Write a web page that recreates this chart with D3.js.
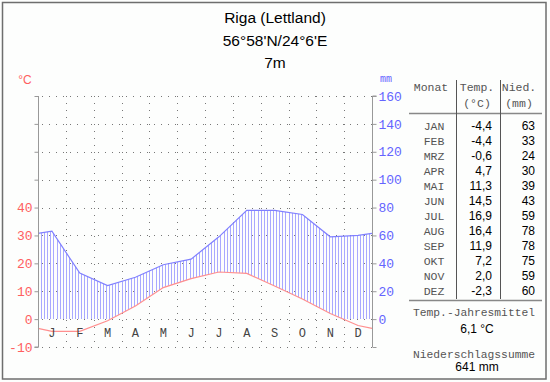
<!DOCTYPE html>
<html><head><meta charset="utf-8">
<script src="https://cdn.jsdelivr.net/npm/d3@7"></script>
<style>body{margin:0;background:#fff}svg{display:block}</style>
</head><body><svg id="c" width="550" height="382"></svg>
<script>
const months = ["JAN","FEB","MRZ","APR","MAI","JUN","JUL","AUG","SEP","OKT","NOV","DEZ"];
const monthInitials = ["J","F","M","A","M","J","J","A","S","O","N","D"];
const temperature = [-4.4,-4.4,-0.6,4.7,11.3,14.5,16.9,16.4,11.9,7.2,2.0,-2.3];
const precipitation = [63,33,24,30,39,43,59,78,78,75,59,60];
const tempTicks = [-10,0,10,20,30,40];
const precTicks = [0,20,40,60,80,100,120,140,160];
const titleLines = ["Riga (Lettland)","56°58'N/24°6'E","7m"];
const annualMean = "6,1 °C";
const annualSum = "641 mm";

const svg = d3.select("#c");
const fmt = v => d3.format(".1f")(v).replace(".", ",").replace("−","-");

svg.append("rect").attr("x",0).attr("y",0).attr("width",550).attr("height",382).attr("fill","#fdfefd");
svg.append("rect").attr("x",2.5).attr("y",2.5).attr("width",543.5).attr("height",376.5)
  .attr("fill","none").attr("stroke","#6e6e6e").attr("stroke-width",1.5);

// title
svg.selectAll("text.title").data(titleLines).join("text")
  .attr("x",275).attr("y",(d,i)=>23+i*22.7).attr("text-anchor","middle")
  .attr("font-family","Liberation Sans, Arial, sans-serif").attr("font-size",15.5).attr("fill","#000")
  .text(d=>d);

const L=38, R=372, T=96, B=347;
const x = d3.scaleLinear().domain([0,12]).range([L,R]);
const yT = d3.scaleLinear().domain([-10,80]).range([B,T]);
const yP = d3.scaleLinear().domain([-20,160]).range([B,T]);

const g = svg.append("g");
const gridVals = d3.range(-10,81,10);
gridVals.forEach(v=>{
  g.append("line").attr("x1",L+4).attr("x2",R).attr("y1",Math.round(yT(v))+0.5).attr("y2",Math.round(yT(v))+0.5)
   .attr("stroke","#777").attr("stroke-width",1).attr("stroke-dasharray","1,6");
});
d3.range(1,12).forEach(m=>{
  g.append("line").attr("x1",Math.round(x(m))+0.5).attr("x2",Math.round(x(m))+0.5).attr("y1",T).attr("y2",B)
   .attr("stroke","#777").attr("stroke-width",1).attr("stroke-dasharray","1,6");
});

const tEdge = (temperature[0]+temperature[11])/2;
const pEdge = (precipitation[0]+precipitation[11])/2;
const tPts = [[0,tEdge]].concat(temperature.map((v,i)=>[i+0.5,v])).concat([[12,tEdge]]);
const pPts = [[0,pEdge]].concat(precipitation.map((v,i)=>[i+0.5,v])).concat([[12,pEdge]]);

const defs = svg.append("defs");
const areaGen = d3.area().x(d=>x(d[0])).y0((d,i)=>yT(tPts[i][1])).y1(d=>yP(d[1]));
defs.append("clipPath").attr("id","humid").append("path").attr("d",areaGen(pPts));
defs.append("clipPath").attr("id","above0").append("rect").attr("x",L).attr("y",T).attr("width",R-L).attr("height",yT(0)-T);

const hatch = svg.append("g").attr("clip-path","url(#above0)").append("g").attr("clip-path","url(#humid)");
const nH = 108;
d3.range(0,nH+1).forEach(k=>{
  const xx = Math.round(x(k*12/nH))+0.5;
  hatch.append("line").attr("x1",xx).attr("x2",xx).attr("y1",T).attr("y2",B)
    .attr("stroke","#a9a9ff").attr("stroke-width",1);
});

const lineGen = d3.line().x(d=>x(d[0]));
svg.append("path").attr("d",lineGen.y(d=>yP(d[1]))(pPts)).attr("fill","none").attr("stroke","#8080ff").attr("stroke-width",1.2);
svg.append("path").attr("d",d3.line().x(d=>x(d[0])).y(d=>yT(d[1]))(tPts)).attr("fill","none").attr("stroke","#ff8f8f").attr("stroke-width",1.2);

const axL = d3.axisLeft(yT).tickValues(gridVals).tickSize(4).tickFormat(d=>tempTicks.includes(d)?d:"");
const ga = svg.append("g").attr("transform",`translate(${L+0.5},0)`).call(axL);
ga.select(".domain").attr("stroke","#999").attr("d",`M-4,${yT(-10)}H0V${T}`);
ga.selectAll(".tick line").attr("stroke","#999");
ga.selectAll(".tick text").attr("fill","#ff6060").attr("font-family","Liberation Mono, monospace").attr("font-size",13).attr("x",-6);

const axR = d3.axisRight(yP).tickValues([-20].concat(precTicks)).tickSize(4).tickFormat(d=>precTicks.includes(d)?d:"");
const gb = svg.append("g").attr("transform",`translate(${R+0.5},0)`).call(axR);
gb.select(".domain").attr("stroke","#999").attr("d",`M0,${B}V${T}H4`);
gb.selectAll(".tick line").attr("stroke","#999");
gb.selectAll(".tick text").attr("fill","#6464ff").attr("font-family","Liberation Mono, monospace").attr("font-size",13).attr("x",6);

svg.append("text").attr("x",25).attr("y",84).attr("text-anchor","middle").attr("fill","#ff6060")
  .attr("font-family","Liberation Sans, Arial, sans-serif").attr("font-size",12).text("°C");
svg.append("text").attr("x",386).attr("y",82).attr("text-anchor","middle").attr("fill","#6464ff")
  .attr("font-family","Liberation Mono, monospace").attr("font-size",10).text("mm");

svg.selectAll("text.mi").data(monthInitials).join("text")
  .attr("x",(d,i)=>x(i+0.5)).attr("y",337).attr("text-anchor","middle")
  .attr("font-family","Liberation Mono, monospace").attr("font-size",12).attr("fill","#444").text(d=>d);

const mono = "Liberation Mono, Courier New, monospace";
const sans = "Liberation Sans, Arial, sans-serif";
const tg = svg.append("g");
const hdr = (tx,xx,yy)=>tg.append("text").attr("x",xx).attr("y",yy).attr("text-anchor","middle").attr("font-family",mono).attr("font-size",11.5).attr("fill","#555").text(tx);
hdr("Monat",431,91); hdr("Temp.",477,91); hdr("(°C)",477,107); hdr("Nied.",519,91); hdr("(mm)",519,107);
tg.append("line").attr("x1",409).attr("x2",542).attr("y1",113.5).attr("y2",113.5).attr("stroke","#888").attr("stroke-width",1.5);
tg.append("line").attr("x1",409).attr("x2",542).attr("y1",300.5).attr("y2",300.5).attr("stroke","#888").attr("stroke-width",1.5);
tg.append("line").attr("x1",456.5).attr("x2",456.5).attr("y1",80).attr("y2",299).attr("stroke","#555").attr("stroke-width",1);
tg.append("line").attr("x1",500.5).attr("x2",500.5).attr("y1",80).attr("y2",299).attr("stroke","#555").attr("stroke-width",1);

const rowY = i => 129.5 + 15*i;
tg.selectAll("text.m").data(months).join("text").attr("x",434).attr("y",(d,i)=>rowY(i)).attr("text-anchor","middle")
  .attr("font-family",mono).attr("font-size",11.5).attr("fill","#555").text(d=>d);
tg.selectAll("text.t").data(temperature).join("text").attr("x",492).attr("y",(d,i)=>rowY(i)).attr("text-anchor","end")
  .attr("font-family",sans).attr("font-size",12).attr("fill","#000").text(d=>fmt(d));
tg.selectAll("text.p").data(precipitation).join("text").attr("x",535).attr("y",(d,i)=>rowY(i)).attr("text-anchor","end")
  .attr("font-family",sans).attr("font-size",12).attr("fill","#000").text(d=>d);

tg.append("text").attr("x",474).attr("y",316).attr("text-anchor","middle").attr("font-family",mono).attr("font-size",11.3).attr("fill","#555").text("Temp.-Jahresmittel");
tg.append("text").attr("x",477).attr("y",332.5).attr("text-anchor","middle").attr("font-family",sans).attr("font-size",12).attr("fill","#000").text(annualMean);
tg.append("text").attr("x",474).attr("y",357.5).attr("text-anchor","middle").attr("font-family",mono).attr("font-size",11.3).attr("fill","#555").text("Niederschlagssumme");
tg.append("text").attr("x",477).attr("y",371).attr("text-anchor","middle").attr("font-family",sans).attr("font-size",12).attr("fill","#000").text(annualSum);
</script></body></html>
